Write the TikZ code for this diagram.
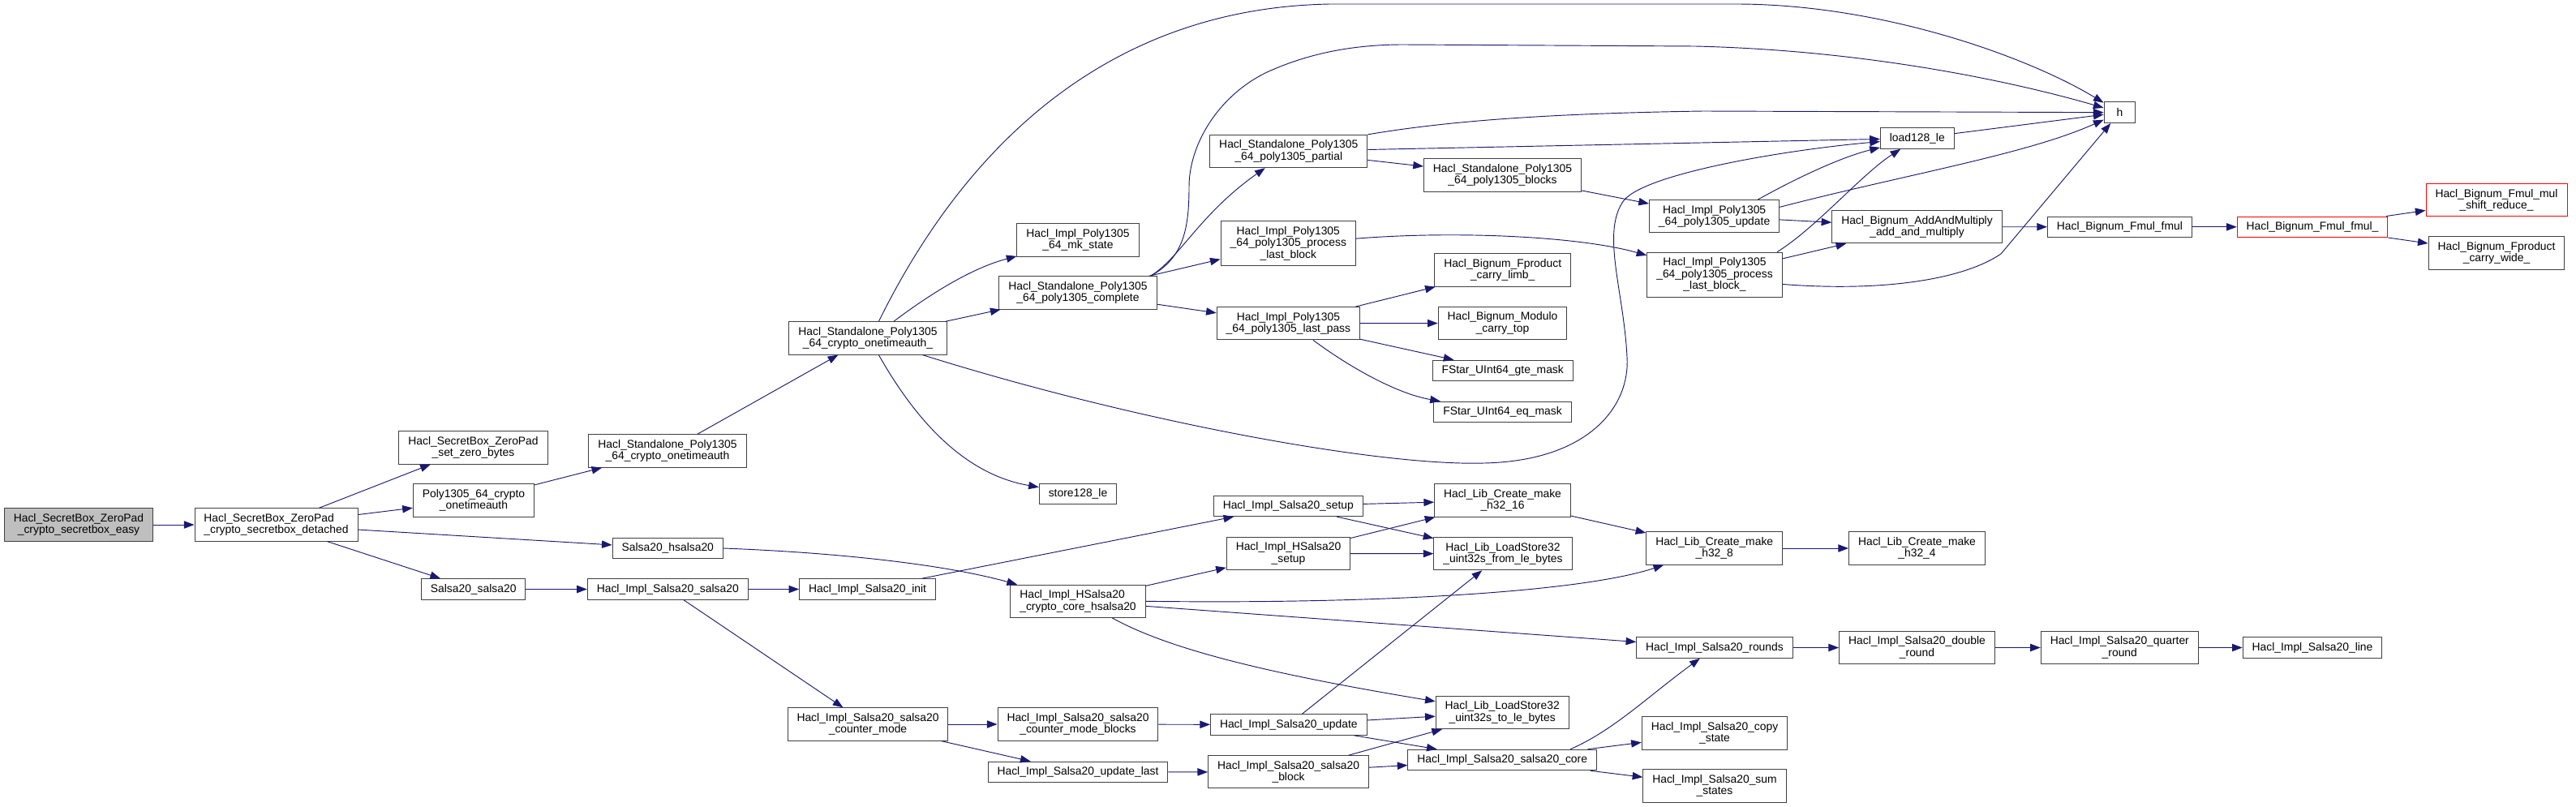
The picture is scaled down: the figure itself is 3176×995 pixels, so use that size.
\documentclass[tikz,border=0pt]{standalone}
\usepackage{fontspec}
\setmainfont{Liberation Sans}
\usetikzlibrary{arrows.meta}
\definecolor{edgeblue}{HTML}{191970}
\definecolor{boxgray}{HTML}{404040}
\definecolor{rootfill}{HTML}{BFBFBF}
\tikzset{
	fn/.style={draw=boxgray, line width=0.75pt, fill=white, inner xsep=8.6pt, inner ysep=0pt,
		minimum height=19.2pt, align=center, font=\fontsize{10.4}{10.8}\selectfont},
	fntwo/.style={fn, minimum height=30.2pt},
	fnthree/.style={fn, minimum height=41.3pt},
	rootfn/.style={fntwo, fill=rootfill},
	cutfn/.style={draw=red},
	call/.style={draw=edgeblue, line width=0.7pt, -{Triangle[length=9.5pt,width=7pt]}},
}
\begin{document}
\begin{tikzpicture}[x=0.75pt,y=-0.75pt]
	\useasboundingbox (0,0) rectangle (3176,995);
	\node[rootfn] (easy) at (97,647) {Hacl\_SecretBox\_ZeroPad\\\_crypto\_secretbox\_easy};
	\node[fntwo, align=left] (detached) at (340.5,647) {Hacl\_SecretBox\_ZeroPad\\\_crypto\_secretbox\_detached};
	\node[fntwo] (setzero) at (583.5,552) {Hacl\_SecretBox\_ZeroPad\\\_set\_zero\_bytes};
	\node[fntwo] (polyauth) at (584,617) {Poly1305\_64\_crypto\\\_onetimeauth};
	\node[fn] (ssalsa) at (583.7,726.5) {Salsa20\_salsa20};
	\node[fntwo] (stdauth) at (823,556) {Hacl\_Standalone\_Poly1305\\\_64\_crypto\_onetimeauth};
	\node[fn] (hsalsa) at (823.3,676) {Salsa20\_hsalsa20};
	\node[fn] (implsalsa) at (823.3,726.5) {Hacl\_Impl\_Salsa20\_salsa20};
	\node[fntwo] (stdauthu) at (1070,417) {Hacl\_Standalone\_Poly1305\\\_64\_crypto\_onetimeauth\_};
	\node[fn] (init) at (1069.6,726.5) {Hacl\_Impl\_Salsa20\_init};
	\node[fntwo] (ctrmode) at (1070,893) {Hacl\_Impl\_Salsa20\_salsa20\\\_counter\_mode};
	\node[fntwo] (mkstate) at (1329,296) {Hacl\_Impl\_Poly1305\\\_64\_mk\_state};
	\node[fntwo] (complete) at (1329,361) {Hacl\_Standalone\_Poly1305\\\_64\_poly1305\_complete};
	\node[fn] (store) at (1329,609) {store128\_le};
	\node[fntwo, align=left] (hcore) at (1329,741.3) {Hacl\_Impl\_HSalsa20\\\_crypto\_core\_hsalsa20};
	\node[fntwo] (ctrblocks) at (1329,893) {Hacl\_Impl\_Salsa20\_salsa20\\\_counter\_mode\_blocks};
	\node[fn] (updlast) at (1329,952) {Hacl\_Impl\_Salsa20\_update\_last};
	\node[fntwo] (partial) at (1588.8,186.5) {Hacl\_Standalone\_Poly1305\\\_64\_poly1305\_partial};
	\node[fnthree] (plb) at (1588.3,300) {Hacl\_Impl\_Poly1305\\\_64\_poly1305\_process\\\_last\_block};
	\node[fntwo] (lastpass) at (1588.4,398.7) {Hacl\_Impl\_Poly1305\\\_64\_poly1305\_last\_pass};
	\node[fn] (ssetup) at (1588.3,623.8) {Hacl\_Impl\_Salsa20\_setup};
	\node[fntwo] (hsetup) at (1588.5,682.5) {Hacl\_Impl\_HSalsa20\\\_setup};
	\node[fn] (supdate) at (1588.8,893.5) {Hacl\_Impl\_Salsa20\_update};
	\node[fntwo] (sblock) at (1588.6,951.8) {Hacl\_Impl\_Salsa20\_salsa20\\\_block};
	\node[fntwo] (pblocks) at (1852.5,216) {Hacl\_Standalone\_Poly1305\\\_64\_poly1305\_blocks};
	\node[fntwo] (limb) at (1852.7,333) {Hacl\_Bignum\_Fproduct\\\_carry\_limb\_};
	\node[fntwo] (ctop) at (1852.5,398.5) {Hacl\_Bignum\_Modulo\\\_carry\_top};
	\node[fn] (gte) at (1852.7,457) {FStar\_UInt64\_gte\_mask};
	\node[fn] (eqm) at (1852.5,508) {FStar\_UInt64\_eq\_mask};
	\node[fntwo] (make16) at (1852.5,617) {Hacl\_Lib\_Create\_make\\\_h32\_16};
	\node[fntwo] (fromle) at (1853,682.7) {Hacl\_Lib\_LoadStore32\\\_uint32s\_from\_le\_bytes};
	\node[fntwo] (tole) at (1852.2,878.5) {Hacl\_Lib\_LoadStore32\\\_uint32s\_to\_le\_bytes};
	\node[fn] (score) at (1852.2,937) {Hacl\_Impl\_Salsa20\_salsa20\_core};
	\node[fntwo] (pupdate) at (2113.6,266.7) {Hacl\_Impl\_Poly1305\\\_64\_poly1305\_update};
	\node[fnthree] (plbu) at (2114,338.7) {Hacl\_Impl\_Poly1305\\\_64\_poly1305\_process\\\_last\_block\_};
	\node[fntwo] (make8) at (2113.7,676) {Hacl\_Lib\_Create\_make\\\_h32\_8};
	\node[fn] (rounds) at (2114,798.5) {Hacl\_Impl\_Salsa20\_rounds};
	\node[fntwo] (copy) at (2114,904) {Hacl\_Impl\_Salsa20\_copy\\\_state};
	\node[fntwo] (sum) at (2114,969) {Hacl\_Impl\_Salsa20\_sum\\\_states};
	\node[fn] (load) at (2363.8,170.5) {load128\_le};
	\node[fntwo] (addmul) at (2363.5,279.7) {Hacl\_Bignum\_AddAndMultiply\\\_add\_and\_multiply};
	\node[fntwo] (make4) at (2363.5,676) {Hacl\_Lib\_Create\_make\\\_h32\_4};
	\node[fntwo] (dround) at (2363.5,798.5) {Hacl\_Impl\_Salsa20\_double\\\_round};
	\node[fn, minimum width=29pt] (h) at (2613.4,138.7) {h};
	\node[fn] (fmul) at (2613.4,279.8) {Hacl\_Bignum\_Fmul\_fmul};
	\node[fntwo] (quarter) at (2613.3,798.5) {Hacl\_Impl\_Salsa20\_quarter\\\_round};
	\node[fn, cutfn] (fmulu) at (2851,279.8) {Hacl\_Bignum\_Fmul\_fmul\_};
	\node[fn] (sline) at (2851,798.5) {Hacl\_Impl\_Salsa20\_line};
	\node[fntwo, cutfn] (msr) at (3078,246.7) {Hacl\_Bignum\_Fmul\_mul\\\_shift\_reduce\_};
	\node[fntwo] (cwide) at (3078,312) {Hacl\_Bignum\_Fproduct\\\_carry\_wide\_};

	\foreach \a/\b in {easy/detached, detached/setzero, detached/polyauth, detached/hsalsa, detached/ssalsa,
		polyauth/stdauth, stdauth/stdauthu, stdauthu/complete, complete/plb, complete/lastpass,
		partial/load, partial/pblocks, pblocks/pupdate, lastpass/limb, lastpass/ctop, lastpass/gte,
		pupdate/addmul, plbu/addmul, load/h, addmul/fmul, fmul/fmulu, fmulu/msr, fmulu/cwide,
		ssalsa/implsalsa, implsalsa/init, implsalsa/ctrmode, init/ssetup, hcore/hsetup, hcore/rounds,
		ssetup/make16, ssetup/fromle, hsetup/make16, hsetup/fromle, make16/make8, make8/make4,
		ctrmode/ctrblocks, ctrmode/updlast, ctrblocks/supdate, updlast/sblock, supdate/fromle,
		supdate/tole, supdate/score, sblock/tole, sblock/score, score/copy, score/sum,
		rounds/dround, dround/quarter, quarter/sline}
		\draw[call] (\a) -- (\b);

	\draw[call] (stdauthu.57) .. controls (1180,200) and (1350,10) .. (1640,5) -- (2140,5)
		.. controls (2320,5) and (2500,70) .. (h);
	\draw[call] (stdauthu.33) .. controls (1150,360) and (1200,330) .. (mkstate);
	\draw[call] (stdauthu.-57) .. controls (1130,520) and (1190,585) .. (store);
	\draw[call] (stdauthu.-17) .. controls (1400,520) and (1700,575) .. (1830,571)
		.. controls (1960,568) and (2010,500) .. (2006,440)
		.. controls (2002,360) and (1975,290) .. (2000,250)
		.. controls (2020,215) and (2200,185) .. (load);
	\draw[call] (complete.13) .. controls (1460,318) and (1466,280) .. (1466,230)
		.. controls (1466,180) and (1500,120) .. (1560,90)
		.. controls (1620,62) and (1680,55) .. (1730,55) -- (2090,57)
		.. controls (2300,62) and (2480,100) .. (h);
	\draw[call] (complete.13) .. controls (1455,318) and (1478,265) .. (partial);
	\draw[call] (partial.north east) .. controls (1780,150) and (1900,140) .. (2100,137) -- (h);
	\draw[call] (plb.4) .. controls (1800,284) and (1950,292) .. (plbu);
	\draw[call] (lastpass.-34) .. controls (1660,450) and (1720,485) .. (eqm);
	\draw[call] (pupdate.21) .. controls (2205,225) and (2265,195) .. (load);
	\draw[call] (pupdate.8) .. controls (2350,215) and (2500,190) .. (h);
	\draw[call] (plbu.20) .. controls (2240,280) and (2295,215) .. (load);
	\draw[call] (plbu.-8) .. controls (2320,360) and (2420,345) .. (2467,313) -- (h);
	\draw[call] (hsalsa.east) .. controls (1000,680) and (1150,692) .. (hcore);
	\draw[call] (hcore.east) .. controls (1700,745) and (1950,730) .. (make8);
	\draw[call] (hcore.-26) .. controls (1440,800) and (1560,830) .. (tole);
	\draw[call] (score.9) .. controls (1990,900) and (2030,860) .. (rounds);
\end{tikzpicture}
\end{document}
